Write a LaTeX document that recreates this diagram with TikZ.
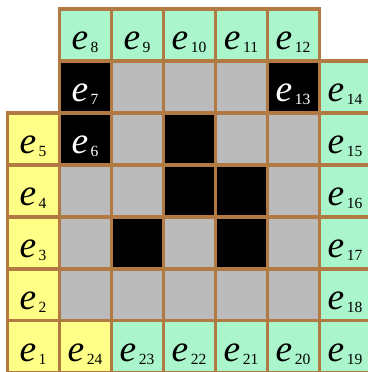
\documentclass[tikz,border=0pt]{standalone}
\usepackage{fontspec}
\setmainfont{Liberation Serif}
\usetikzlibrary{positioning}
\definecolor{cellgreen}{RGB}{170,245,204}
\definecolor{cellyellow}{RGB}{255,255,136}
\definecolor{cellgray}{RGB}{187,187,187}
\definecolor{gridbrown}{RGB}{176,122,66}
\newcommand{\elab}[1]{\textit{e}\kern1.4pt\raisebox{-1.5pt}{\fontsize{8.5}{8.5}\selectfont #1}}
\tikzset{
  cellbox/.style={draw=gridbrown,line width=1.65pt},
  lab/.style={font=\fontsize{20.5}{20.5}\selectfont,inner sep=0pt,anchor=base}
}

\begin{document}
\begin{tikzpicture}[line join=miter]
\path[use as bounding box] (-0.135,0.173) rectangle (6.923,-6.981);
% plain cells
\foreach \c/\r/\col in {2/1/cellgray,3/1/cellgray,4/1/cellgray,
  2/2/cellgray,3/2/black,4/2/cellgray,5/2/cellgray,
  1/3/cellgray,2/3/cellgray,3/3/black,4/3/black,5/3/cellgray,
  1/4/cellgray,2/4/black,3/4/cellgray,4/4/black,5/4/cellgray,
  1/5/cellgray,2/5/cellgray,3/5/cellgray,4/5/cellgray,5/5/cellgray}
  \draw[cellbox,fill=\col] (\c,-\r) rectangle ++(1,-1);
% labelled cells
\foreach \c/\r/\col/\txt/\n in {1/0/cellgreen/black/8,2/0/cellgreen/black/9,
  3/0/cellgreen/black/10,4/0/cellgreen/black/11,5/0/cellgreen/black/12,
  1/1/black/white/7,5/1/black/white/13,6/1/cellgreen/black/14,
  0/2/cellyellow/black/5,1/2/black/white/6,6/2/cellgreen/black/15,
  0/3/cellyellow/black/4,6/3/cellgreen/black/16,
  0/4/cellyellow/black/3,6/4/cellgreen/black/17,
  0/5/cellyellow/black/2,6/5/cellgreen/black/18,
  0/6/cellyellow/black/1,1/6/cellyellow/black/24,2/6/cellgreen/black/23,
  3/6/cellgreen/black/22,4/6/cellgreen/black/21,5/6/cellgreen/black/20,
  6/6/cellgreen/black/19}{
  \draw[cellbox,fill=\col] (\c,-\r) rectangle ++(1,-1);
  \node[lab,text=\txt] (e\n) at (\c+0.5,-\r-0.78) {\elab{\n}};
}
\end{tikzpicture}
\end{document}
